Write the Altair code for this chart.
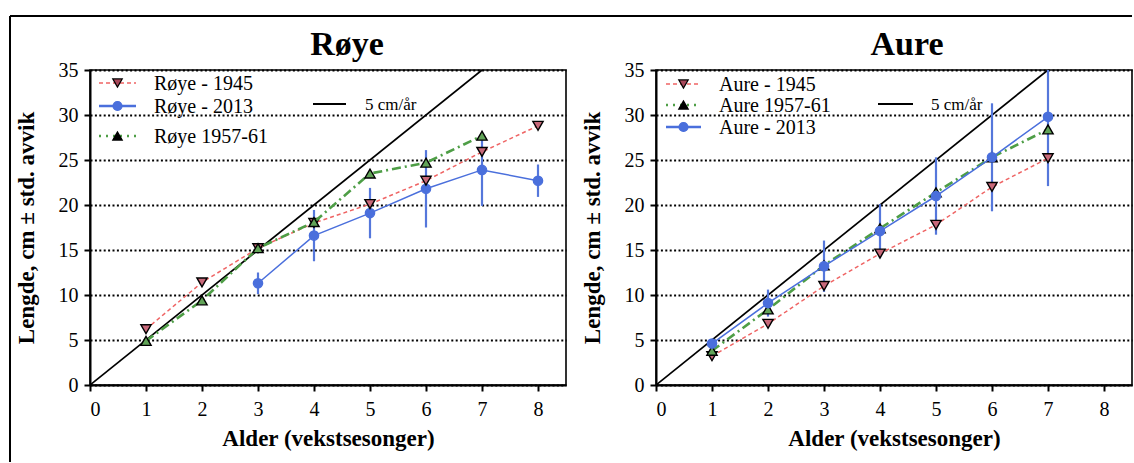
import altair as alt
import pandas as pd

# ---- data -------------------------------------------------------------
# Røye (Arctic char): mean length (cm) by age in growth seasons
roye_age_1945 = [1, 2, 3, 4, 5, 6, 7, 8]
roye_1945 = [6.2, 11.4, 15.2, 18.0, 20.1, 22.7, 25.9, 28.8]
roye_age_5761 = [1, 2, 3, 4, 5, 6, 7]
roye_5761 = [4.9, 9.4, 15.2, 18.1, 23.5, 24.7, 27.7]
roye_age_2013 = [3, 4, 5, 6, 7, 8]
roye_2013 = [11.3, 16.6, 19.1, 21.8, 23.9, 22.7]
roye_2013_sd = [1.2, 2.85, 2.8, 4.3, 4.0, 1.8]

# Aure (brown trout)
aure_age = [1, 2, 3, 4, 5, 6, 7]
aure_1945 = [3.2, 6.8, 11.0, 14.6, 17.8, 22.0, 25.2]
aure_5761 = [3.8, 8.4, 13.3, 17.4, 21.4, 25.3, 28.4]
aure_2013 = [4.6, 9.1, 13.2, 17.1, 21.0, 25.3, 29.8]
aure_2013_sd = [0.4, 1.5, 2.85, 3.0, 4.3, 6.0, 7.7]

# reference growth of 5 cm per year
ref_age = [0, 7]
ref_len = [0, 35]

x_ticks = [0, 1, 2, 3, 4, 5, 6, 7, 8]
y_ticks = [0, 5, 10, 15, 20, 25, 30, 35]

# ---- styling ----------------------------------------------------------
SERIF = "Liberation Serif"
RED, RED_FILL = "#ef6464", "#c8697a"
GREEN, GREEN_FILL = "#4e9e46", "#62a458"
BLUE = "#4a6fdc"
W, H = 476, 315

X_SCALE = alt.Scale(domain=[0, 8.5], nice=False, zero=False)
Y_SCALE = alt.Scale(domain=[0, 35], nice=False)
X_AXIS = alt.Axis(values=x_ticks, title="Alder (vekstsesonger)", grid=False,
                  labelPadding=8, titlePadding=8, format="d")
Y_AXIS = alt.Axis(values=y_ticks, title="Lengde, cm ± std. avvik", grid=True,
                  gridColor="black", gridDash=[2, 2.4], gridWidth=1.9,
                  labelPadding=6, titlePadding=20)
X = alt.X("age:Q", scale=X_SCALE, axis=X_AXIS)
Y = alt.Y("len:Q", scale=Y_SCALE, axis=Y_AXIS)


def series(ages, vals, color, dash, width, shape, fill, stroke, size):
    base = alt.Chart(pd.DataFrame({"age": ages, "len": vals}))
    line_kw = dict(color=color, strokeWidth=width, clip=True)
    if dash:
        line_kw["strokeDash"] = dash
    line = base.mark_line(**line_kw).encode(x=X, y=Y)
    pts = base.mark_point(shape=shape, filled=True, fill=fill, stroke=stroke,
                          strokeWidth=1.4, size=size, opacity=1, clip=True).encode(x=X, y=Y)
    return [line, pts]


def error_bars(ages, vals, sd):
    df = pd.DataFrame({"age": ages,
                       "len": [v - s for v, s in zip(vals, sd)],
                       "hi": [v + s for v, s in zip(vals, sd)]})
    return alt.Chart(df).mark_rule(color="#5577db", strokeWidth=2.2, clip=True).encode(
        x=X, y=Y, y2="hi:Q")


def ref_line():
    return alt.Chart(pd.DataFrame({"age": ref_age, "len": ref_len})).mark_line(
        color="black", strokeWidth=1.7, clip=True).encode(x=X, y=Y)


def legend_item(label, y, style, x0=9, x1=46, xt=64, size=20):
    d = alt.Chart(pd.DataFrame({"label": [label]}))
    rule_kw = dict(color=style["color"], strokeWidth=style["width"])
    if style.get("dash"):
        rule_kw["strokeDash"] = style["dash"]
    layers = [d.mark_rule(**rule_kw).encode(x=alt.value(x0), x2=alt.value(x1), y=alt.value(y))]
    if style.get("shape"):
        layers.append(d.mark_point(shape=style["shape"], filled=True, fill=style["fill"],
                                   stroke=style["stroke"], strokeWidth=1.2, size=style["size"],
                                   opacity=1).encode(x=alt.value((x0 + x1) / 2), y=alt.value(y)))
    layers.append(d.mark_text(align="left", baseline="middle", font=SERIF, fontSize=size,
                              color="black").encode(x=alt.value(xt), y=alt.value(y + 1),
                                                    text="label:N"))
    return layers


def heading(text, dx):
    return alt.Chart(pd.DataFrame({"t": [text]})).mark_text(
        font=SERIF, fontSize=34, fontWeight="bold", color="black",
        align="center", baseline="alphabetic").encode(
        x=alt.value(W / 2 + dx), y=alt.value(-15), text="t:N")


STY_1945 = dict(color=RED, dash=[4, 3], width=1.5, shape="triangle-down",
                fill="#a8485a", stroke="black", size=90)
STY_5761 = dict(color=GREEN, dash=[2, 5], width=2.6, shape="triangle-up",
                fill="black", stroke="black", size=90)
STY_2013 = dict(color=BLUE, width=2.4, shape="circle", fill=BLUE, stroke=BLUE, size=80)
STY_REF = dict(color="black", width=1.8)

# figure border (top and left edges)
one = alt.Chart(pd.DataFrame({"k": [0]}))
border = [
    one.mark_rule(color="black", strokeWidth=2).encode(
        x=alt.value(-80), x2=alt.value(1042), y=alt.value(-54)),
    one.mark_rule(color="black", strokeWidth=2).encode(
        x=alt.value(-80), y=alt.value(-54), y2=alt.value(392)),
]

roye_layers = (
    [ref_line()]
    + [error_bars(roye_age_2013, roye_2013, roye_2013_sd)]
    + series(roye_age_2013, roye_2013, BLUE, None, 1.5, "circle", BLUE, BLUE, 85)
    + series(roye_age_1945, roye_1945, RED, [4, 3], 1.5, "triangle-down", RED_FILL, "black", 105)
    + series(roye_age_5761, roye_5761, GREEN, [9, 4, 2, 4], 2.6, "triangle-up", GREEN_FILL, "black", 105)
    + legend_item("Røye - 1945", 13, STY_1945)
    + legend_item("Røye - 2013", 36, STY_2013)
    + legend_item("Røye 1957-61", 66, STY_5761)
    + legend_item("5 cm/år", 34, STY_REF, x0=223, x1=256, xt=275, size=17)
    + [heading("Røye", 19)]
    + border
)

aure_layers = (
    [ref_line()]
    + [error_bars(aure_age, aure_2013, aure_2013_sd)]
    + series(aure_age, aure_1945, RED, [4, 3], 1.5, "triangle-down", RED_FILL, "black", 105)
    + series(aure_age, aure_5761, GREEN, [9, 4, 2, 4], 2.6, "triangle-up", GREEN_FILL, "black", 105)
    + series(aure_age, aure_2013, BLUE, None, 1.5, "circle", BLUE, BLUE, 85)
    + legend_item("Aure - 1945", 14, STY_1945, x0=10, x1=45, xt=63)
    + legend_item("Aure 1957-61", 35, STY_5761, x0=10, x1=45, xt=63)
    + legend_item("Aure - 2013", 57, STY_2013, x0=10, x1=45, xt=63)
    + legend_item("5 cm/år", 34, STY_REF, x0=222, x1=257, xt=275, size=17)
    + [heading("Aure", 13)]
)

chart = alt.hconcat(
    alt.layer(*roye_layers).properties(width=W, height=H),
    alt.layer(*aure_layers).properties(width=W, height=H),
    spacing=90, bounds="flush",
).properties(
    padding={"left": 8, "top": 14, "right": 0, "bottom": 0},
    background="white",
).configure_view(
    stroke="black", strokeWidth=1.6,
).configure_axis(
    domainColor="black", domainWidth=2, tickColor="black", tickWidth=2, tickSize=6,
    labelFont=SERIF, labelFontSize=20, labelColor="black",
    titleFont=SERIF, titleFontSize=23, titleFontWeight="bold", titleColor="black",
)

chart.save("out.html", embed_options={"renderer": "svg", "actions": False})
